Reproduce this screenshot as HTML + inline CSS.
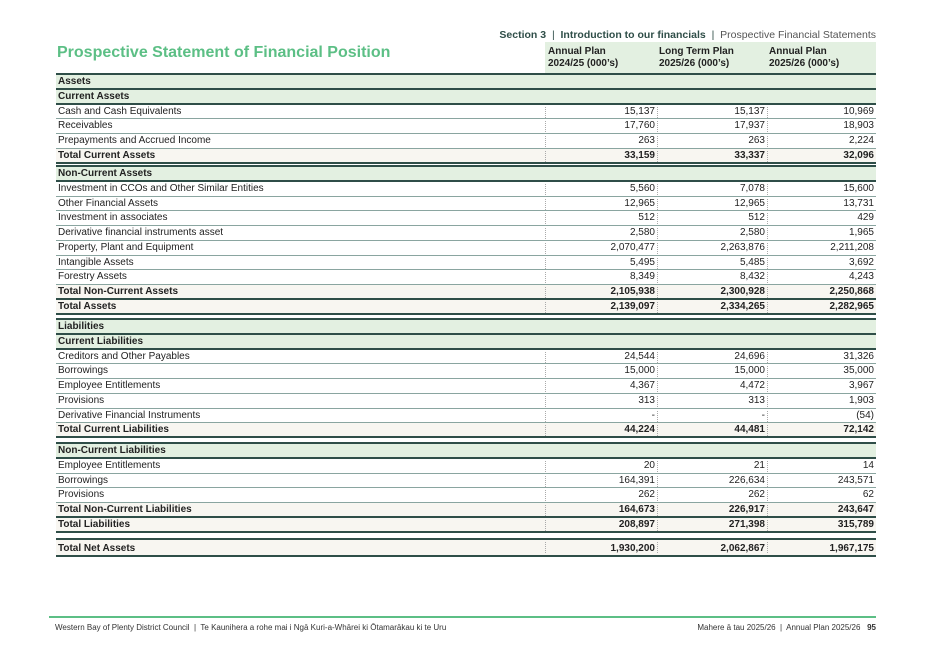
<!DOCTYPE html>
<html><head><meta charset="utf-8"><style>
*{margin:0;padding:0;box-sizing:border-box}
body{width:931px;height:664px;background:#fff;position:relative;font-family:"Liberation Sans",sans-serif;color:#222;overflow:hidden}
.sec{position:absolute;right:55px;top:29px;font-size:10.5px;color:#2f4e48}
.sec b{font-weight:bold}
.sec span{color:#555}
.title{position:absolute;left:57px;top:44px;font-size:16px;font-weight:bold;color:#5cbf85}
.hdr{position:absolute;left:545px;top:42px;width:331px;height:31px;background:#e3f0e1}
.hdr div{position:absolute;top:4px;font-size:10px;font-weight:bold;line-height:12px;color:#222}
.tbl{position:absolute;left:56px;width:820px}
.row{position:relative;height:14.75px;font-size:10px;line-height:14px;border-bottom:1px solid #8aa5a0}
.row .l{position:absolute;left:2px;top:0}
.row .v{position:absolute;top:0;text-align:right;width:100px}
.v1{left:499px}.v2{left:609px}.v3{left:718px}
.d{position:absolute;top:2px;height:11px;border-left:1px dotted #aaa}
.g{background:#e3f0e1;font-weight:bold;border-bottom:2px solid #2f4e48}
.t{background:#f8f6f1;font-weight:bold;border-bottom:2px solid #2f4e48}
.blk{border-top:2px solid #2f4e48}
.foot{position:absolute;left:49px;top:616px;width:827px;height:2px;background:#5cbf85}
.ft{position:absolute;top:623px;font-size:8px;color:#333}
</style></head><body>
<div class="sec"><b>Section 3</b> &nbsp;|&nbsp; <b>Introduction to our financials</b> &nbsp;|&nbsp; <span>Prospective Financial Statements</span></div>
<div class="title">Prospective Statement of Financial Position</div>
<div class="hdr"><div style="left:3px">Annual Plan<br>2024/25 (000’s)</div><div style="left:114px">Long Term Plan<br>2025/26 (000’s)</div><div style="left:224px">Annual Plan<br>2025/26 (000’s)</div></div>

<div class="tbl blk" style="top:73px">
<div class="row g"><span class="l">Assets</span></div>
<div class="row g"><span class="l">Current Assets</span></div>
<div class="row"><span class="l">Cash and Cash Equivalents</span><i class="d" style="left:489px"></i><span class="v v1">15,137</span><i class="d" style="left:601px"></i><span class="v v2">15,137</span><i class="d" style="left:711px"></i><span class="v v3">10,969</span></div>
<div class="row"><span class="l">Receivables</span><i class="d" style="left:489px"></i><span class="v v1">17,760</span><i class="d" style="left:601px"></i><span class="v v2">17,937</span><i class="d" style="left:711px"></i><span class="v v3">18,903</span></div>
<div class="row"><span class="l">Prepayments and Accrued Income</span><i class="d" style="left:489px"></i><span class="v v1">263</span><i class="d" style="left:601px"></i><span class="v v2">263</span><i class="d" style="left:711px"></i><span class="v v3">2,224</span></div>
<div class="row t"><span class="l">Total Current Assets</span><i class="d" style="left:489px"></i><span class="v v1">33,159</span><i class="d" style="left:601px"></i><span class="v v2">33,337</span><i class="d" style="left:711px"></i><span class="v v3">32,096</span></div>
</div>

<div class="tbl blk" style="top:165px">
<div class="row g"><span class="l">Non-Current Assets</span></div>
<div class="row"><span class="l">Investment in CCOs and Other Similar Entities</span><i class="d" style="left:489px"></i><span class="v v1">5,560</span><i class="d" style="left:601px"></i><span class="v v2">7,078</span><i class="d" style="left:711px"></i><span class="v v3">15,600</span></div>
<div class="row"><span class="l">Other Financial Assets</span><i class="d" style="left:489px"></i><span class="v v1">12,965</span><i class="d" style="left:601px"></i><span class="v v2">12,965</span><i class="d" style="left:711px"></i><span class="v v3">13,731</span></div>
<div class="row"><span class="l">Investment in associates</span><i class="d" style="left:489px"></i><span class="v v1">512</span><i class="d" style="left:601px"></i><span class="v v2">512</span><i class="d" style="left:711px"></i><span class="v v3">429</span></div>
<div class="row"><span class="l">Derivative financial instruments asset</span><i class="d" style="left:489px"></i><span class="v v1">2,580</span><i class="d" style="left:601px"></i><span class="v v2">2,580</span><i class="d" style="left:711px"></i><span class="v v3">1,965</span></div>
<div class="row"><span class="l">Property, Plant and Equipment</span><i class="d" style="left:489px"></i><span class="v v1">2,070,477</span><i class="d" style="left:601px"></i><span class="v v2">2,263,876</span><i class="d" style="left:711px"></i><span class="v v3">2,211,208</span></div>
<div class="row"><span class="l">Intangible Assets</span><i class="d" style="left:489px"></i><span class="v v1">5,495</span><i class="d" style="left:601px"></i><span class="v v2">5,485</span><i class="d" style="left:711px"></i><span class="v v3">3,692</span></div>
<div class="row"><span class="l">Forestry Assets</span><i class="d" style="left:489px"></i><span class="v v1">8,349</span><i class="d" style="left:601px"></i><span class="v v2">8,432</span><i class="d" style="left:711px"></i><span class="v v3">4,243</span></div>
<div class="row t"><span class="l">Total Non-Current Assets</span><i class="d" style="left:489px"></i><span class="v v1">2,105,938</span><i class="d" style="left:601px"></i><span class="v v2">2,300,928</span><i class="d" style="left:711px"></i><span class="v v3">2,250,868</span></div>
<div class="row t"><span class="l">Total Assets</span><i class="d" style="left:489px"></i><span class="v v1">2,139,097</span><i class="d" style="left:601px"></i><span class="v v2">2,334,265</span><i class="d" style="left:711px"></i><span class="v v3">2,282,965</span></div>
</div>

<div class="tbl blk" style="top:318px">
<div class="row g"><span class="l">Liabilities</span></div>
<div class="row g"><span class="l">Current Liabilities</span></div>
<div class="row"><span class="l">Creditors and Other Payables</span><i class="d" style="left:489px"></i><span class="v v1">24,544</span><i class="d" style="left:601px"></i><span class="v v2">24,696</span><i class="d" style="left:711px"></i><span class="v v3">31,326</span></div>
<div class="row"><span class="l">Borrowings</span><i class="d" style="left:489px"></i><span class="v v1">15,000</span><i class="d" style="left:601px"></i><span class="v v2">15,000</span><i class="d" style="left:711px"></i><span class="v v3">35,000</span></div>
<div class="row"><span class="l">Employee Entitlements</span><i class="d" style="left:489px"></i><span class="v v1">4,367</span><i class="d" style="left:601px"></i><span class="v v2">4,472</span><i class="d" style="left:711px"></i><span class="v v3">3,967</span></div>
<div class="row"><span class="l">Provisions</span><i class="d" style="left:489px"></i><span class="v v1">313</span><i class="d" style="left:601px"></i><span class="v v2">313</span><i class="d" style="left:711px"></i><span class="v v3">1,903</span></div>
<div class="row"><span class="l">Derivative Financial Instruments</span><i class="d" style="left:489px"></i><span class="v v1">-</span><i class="d" style="left:601px"></i><span class="v v2">-</span><i class="d" style="left:711px"></i><span class="v v3">(54)</span></div>
<div class="row t"><span class="l">Total Current Liabilities</span><i class="d" style="left:489px"></i><span class="v v1">44,224</span><i class="d" style="left:601px"></i><span class="v v2">44,481</span><i class="d" style="left:711px"></i><span class="v v3">72,142</span></div>
</div>

<div class="tbl blk" style="top:442px">
<div class="row g"><span class="l">Non-Current Liabilities</span></div>
<div class="row"><span class="l">Employee Entitlements</span><i class="d" style="left:489px"></i><span class="v v1">20</span><i class="d" style="left:601px"></i><span class="v v2">21</span><i class="d" style="left:711px"></i><span class="v v3">14</span></div>
<div class="row"><span class="l">Borrowings</span><i class="d" style="left:489px"></i><span class="v v1">164,391</span><i class="d" style="left:601px"></i><span class="v v2">226,634</span><i class="d" style="left:711px"></i><span class="v v3">243,571</span></div>
<div class="row"><span class="l">Provisions</span><i class="d" style="left:489px"></i><span class="v v1">262</span><i class="d" style="left:601px"></i><span class="v v2">262</span><i class="d" style="left:711px"></i><span class="v v3">62</span></div>
<div class="row t"><span class="l">Total Non-Current Liabilities</span><i class="d" style="left:489px"></i><span class="v v1">164,673</span><i class="d" style="left:601px"></i><span class="v v2">226,917</span><i class="d" style="left:711px"></i><span class="v v3">243,647</span></div>
<div class="row t"><span class="l">Total Liabilities</span><i class="d" style="left:489px"></i><span class="v v1">208,897</span><i class="d" style="left:601px"></i><span class="v v2">271,398</span><i class="d" style="left:711px"></i><span class="v v3">315,789</span></div>
</div>

<div class="tbl blk" style="top:538px">
<div class="row t" style="height:17px;line-height:17px"><span class="l">Total Net Assets</span><i class="d" style="left:489px"></i><span class="v v1">1,930,200</span><i class="d" style="left:601px"></i><span class="v v2">2,062,867</span><i class="d" style="left:711px"></i><span class="v v3">1,967,175</span></div>
</div>

<div class="foot"></div>
<div class="ft" style="left:55px">Western Bay of Plenty District Council &nbsp;|&nbsp; Te Kaunihera a rohe mai i Ngā Kuri-a-Whārei ki Ōtamarākau ki te Uru</div>
<div class="ft" style="right:55px">Mahere ā tau 2025/26 &nbsp;|&nbsp; Annual Plan 2025/26 &nbsp;&nbsp;<b>95</b></div>
</body></html>
